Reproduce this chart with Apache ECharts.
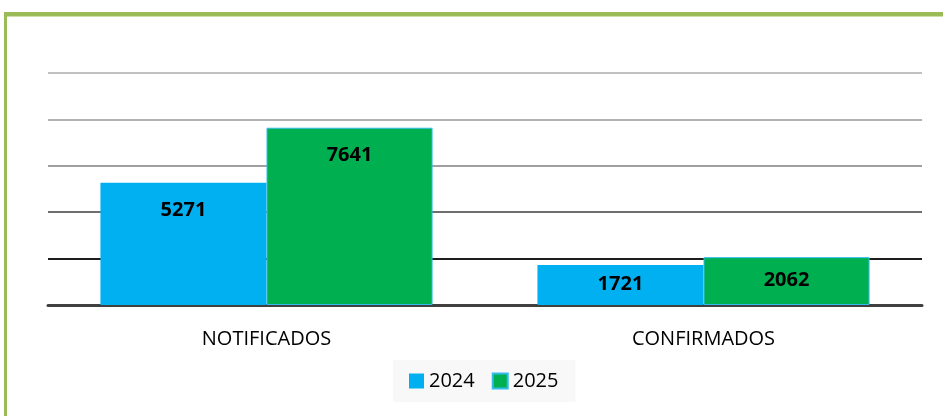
<!DOCTYPE html>
<html><head><meta charset="utf-8">
<script src="https://cdn.jsdelivr.net/npm/echarts@6/dist/echarts.min.js"></script>
<style>html,body{margin:0;padding:0;background:#fff}#c{width:943px;height:416px}</style>
</head><body><div id="c"></div>
<script>
const categories = ['NOTIFICADOS', 'CONFIRMADOS'];
const seriesNames = ['2024', '2025'];
const values2024 = [5271, 1721];
const values2025 = [7641, 2062];

const chart = echarts.init(document.getElementById('c'));
const FONT = '"Open Sans", "Noto Sans", sans-serif';
function labelFor(v){
  return v > 4000
    ? {position: 'insideTop', distance: 18}
    : {position: 'inside', offset: [0, -1]};
}
function mk(vals){ return vals.map(v => ({value: v, label: labelFor(v)})); }
chart.setOption({
  animation: false,
  backgroundColor: '#fff',
  graphic: [
    {type: 'rect', left: 4, top: 12, z: -1, shape: {width: 1000, height: 4.5}, style: {fill: '#9BBB59'}},
    {type: 'rect', left: 4, top: 12, z: -1, shape: {width: 3, height: 500}, style: {fill: '#9BBB59'}}
  ],
  grid: {left: 48, right: 21, top: 73, bottom: 111, containLabel: false},
  legend: {
    data: seriesNames, left: 393, top: 360,
    icon: 'rect',
    itemWidth: 15, itemHeight: 15, itemGap: 17,
    backgroundColor: '#f8f8f8', padding: [11, 17, 11, 16],
    textStyle: {fontSize: 20, color: '#000', fontFamily: FONT}
  },
  xAxis: {
    type: 'category', data: categories,
    axisLine: {lineStyle: {color: '#404040', width: 3}},
    axisTick: {show: false},
    axisLabel: {fontSize: 20, color: '#000', fontFamily: FONT, margin: 24}
  },
  yAxis: {
    type: 'value', min: 0, max: 10000, interval: 2000,
    axisLabel: {show: false}, axisLine: {show: false}, axisTick: {show: false},
    splitLine: {lineStyle: {width: 2, color: ['#404040', '#1e1e1e', '#6e6e6e', '#a0a0a0', '#b2b2b2', '#c0c0c0']}}
  },
  series: [
    {name: seriesNames[0], type: 'bar', data: mk(values2024), barWidth: '38%', barGap: '0%',
     itemStyle: {color: '#00B0F0'},
     label: {show: true, color: '#000', fontWeight: 'bold', fontSize: 20, fontFamily: FONT}},
    {name: seriesNames[1], type: 'bar', data: mk(values2025), barWidth: '38%',
     itemStyle: {color: '#00B050', borderColor: '#33BBEE', borderWidth: 1},
     label: {show: true, color: '#000', fontWeight: 'bold', fontSize: 20, fontFamily: FONT}}
  ]
});
</script></body></html>
